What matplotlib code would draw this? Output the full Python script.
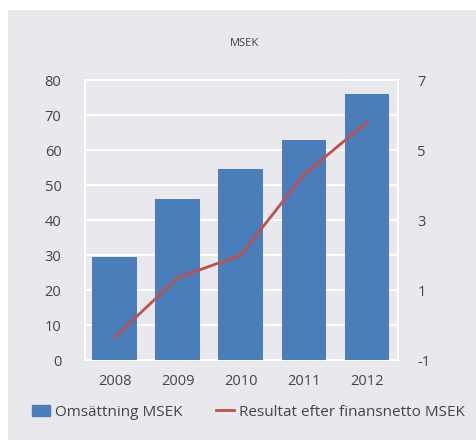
import matplotlib
matplotlib.use("Agg")
import matplotlib.pyplot as plt
from matplotlib.patches import Rectangle
from matplotlib.lines import Line2D

years = ["2008", "2009", "2010", "2011", "2012"]
omsattning = [29.5, 46, 54.5, 63, 76]
resultat = [-0.35, 1.35, 2.0, 4.3, 5.8]

left_ticks = [0, 10, 20, 30, 40, 50, 60, 70, 80]
right_ticks = [-1, 1, 3, 5, 7]

bar_color = "#4a7ebb"
line_color = "#c0504d"
bg = "#e8e8ed"
txt = "#454545"

plt.rcParams["font.family"] = ["Open Sans", "DejaVu Sans"]
plt.rcParams["axes.unicode_minus"] = False

fig = plt.figure(figsize=(4.77, 4.4), dpi=100)
fig.patch.set_facecolor("white")
fig.patches.append(Rectangle((8 / 477, 0), 1, 1 - 10 / 440, transform=fig.transFigure,
                             facecolor=bg, edgecolor="none", zorder=-10))

ax = fig.add_axes([85 / 477, 80 / 440, 313 / 477, 280 / 440])
ax.set_facecolor(bg)
x = range(len(years))
ax.bar(x, omsattning, width=0.71, color=bar_color, zorder=3)
ax.set_ylim(0, 80)
ax.set_xlim(-0.47, 4.49)
ax.set_yticks(left_ticks)
ax.yaxis.grid(True, color="white", linewidth=1.5, zorder=0)
ax.set_axisbelow(True)
ax.set_xticks(list(x))
ax.set_xticklabels(years)
ax.tick_params(length=0, colors=txt, labelsize=10.5)
ax.tick_params(axis="y", pad=17)
ax.tick_params(axis="x", pad=10)
for s in ax.spines.values():
    s.set_color("white")
    s.set_linewidth(1.5)

ax2 = ax.twinx()
ax2.plot(list(x), resultat, color=line_color, linewidth=2, zorder=4)
ax2.set_ylim(-1, 7)
ax2.set_yticks(right_ticks)
ax2.tick_params(length=0, colors=txt, labelsize=10.5, pad=14)
for s in ax2.spines.values():
    s.set_visible(False)

fig.text(245 / 477, 1 - 43 / 440, "MSEK", ha="center", va="center", fontsize=8, color=txt)

handles = [Rectangle((0, 0), 1, 1, color=bar_color),
           Line2D([0], [0], color=line_color, linewidth=2)]
fig.legend(handles, ["Omsättning MSEK", "Resultat efter finansnetto MSEK"],
           loc="center", bbox_to_anchor=(0.52, 1 - 412 / 440), ncol=2, frameon=False,
           fontsize=11, handlelength=1.2, handletextpad=0.3, columnspacing=2.2,
           labelcolor=txt)

fig.savefig("out.png", dpi=100)
